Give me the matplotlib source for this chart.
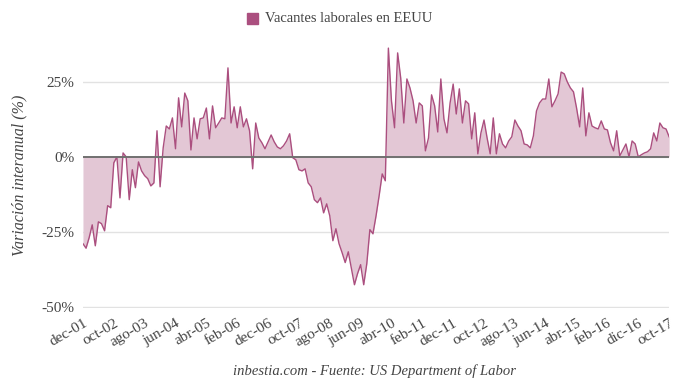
import numpy as np
import matplotlib
matplotlib.use('Agg')
import matplotlib.pyplot as plt
import matplotlib.transforms as mtransforms

# Year-on-year change in US job openings (%), monthly dec-01 .. oct-17
values_2002_2004 = [
    -29, -30.5, -27, -22.7, -29.7, -21.7, -22.3, -24.7, -16.3, -17,
    -2, 0, -13.7, 1.3, 0, -14.3, -4.3, -10.3, -1.7, -4.7,
    -6.3, -7.3, -9.7, -8.7, 8.7, -10, 3, 10.3, 9.3, 13, 2.7,
]
values_2004_2007 = [
    19.7, 10, 21.3, 18.7, 2.3, 13, 6, 12.7, 13, 16.3,
    6, 17, 9.7, 11.3, 13, 12.7, 29.7, 11.3, 16.7, 9.7,
    16.7, 10, 12.7, 8.7, -4, 11.3, 6.3, 4.7, 2.7, 5, 7.3,
]
values_2007_2010 = [
    5, 3.3, 2.7, 3.7, 5.3, 7.7, -0.3, -1, -4.3, -4.7,
    -4, -8.7, -10, -14.3, -15.3, -13.7, -18.7, -15.7, -19.7, -28,
    -24, -29, -32, -35.3, -31.7, -37.3, -42.7, -39, -36, -42.7,
    -35.7, -24.3, -25.7, -19.7, -13, -5.7, -8,
]
values_2010_2014 = [
    36.3, 18.7, 9.7, 34.7, 26.3, 11.3, 26, 23, 18.7, 11.3,
    18, 17, 2, 6.3, 20.7, 17, 8.3, 26, 12.7, 8,
    18, 24.3, 14.3, 22.7, 11.3, 18.7, 17.7, 6, 14.7,
    1, 8, 12.3, 6.3, 1, 13, 1, 7.7, 4.3, 3,
    5.3, 6.7, 12.3, 10.3, 8.7, 4.3, 4, 3, 7, 15.3,
]
values_2014_2017 = [
    18, 19.3, 19.3, 26, 16.7, 18.7, 21, 28.3, 27.7, 25, 23,
    21.7, 16.3, 10, 23, 7, 14.7, 10.3, 9.7, 9.3, 12,
    9.3, 9, 4.7, 2, 8.7, 0.3, 2.3, 4.3, 0, 5.3,
    4.3, 0, 0.7, 1.3, 1.7, 2.7, 8, 5.3, 11.3, 9.7, 9.3, 6.7,
]

tick_labels = ['dec-01', 'oct-02', 'ago-03', 'jun-04', 'abr-05', 'feb-06',
               'dec-06', 'oct-07', 'ago-08', 'jun-09', 'abr-10', 'feb-11',
               'dec-11', 'oct-12', 'ago-13', 'jun-14', 'abr-15', 'feb-16',
               'dic-16', 'oct-17']

series_name = 'Vacantes laborales en EEUU'

vals = np.array(values_2002_2004 + values_2004_2007 + values_2007_2010
                + values_2010_2014 + values_2014_2017)
x = np.arange(len(vals))

line_color = '#ab4f7f'
fill_color = '#e3c7d5'
text_color = '#444444'

plt.rcParams['font.family'] = ['Liberation Serif', 'DejaVu Serif']

fig = plt.figure(figsize=(6.8, 3.91), dpi=100)
ax = fig.add_axes([0.122, 0.212, 0.862, 0.678])

ax.fill_between(x, vals, 0, color=fill_color, linewidth=0)
ax.plot(x, vals, color=line_color, linewidth=1.0)
ax.axhline(0, color='#707070', linewidth=1.4, zorder=3)

ax.set_xlim(0, len(vals) - 1)
ax.set_ylim(-50.5, 38)
ax.set_yticks([-50, -25, 0, 25])
ax.set_yticklabels(['-50%', '-25%', '0%', '25%'], color=text_color, fontsize=11)
ax.grid(axis='y', color='#e2e2e2', linewidth=1)
ax.set_axisbelow(True)

ticks = np.arange(0, len(vals), 10)
ax.set_xticks(ticks)
ax.set_xticklabels(tick_labels[:len(ticks)],
                   rotation=30, ha='right', rotation_mode='anchor',
                   color=text_color, fontsize=11)
offset = mtransforms.ScaledTranslation(11 / 100, 0, fig.dpi_scale_trans)
for lbl in ax.get_xticklabels():
    lbl.set_transform(lbl.get_transform() + offset)

ax.tick_params(length=0, pad=6)
for s in ax.spines.values():
    s.set_visible(False)

ax.set_ylabel('Variación interanual (%)', fontstyle='italic',
              color=text_color, fontsize=11.5, labelpad=10)

# legend
fig.patches.append(plt.Rectangle((0.363, 0.938), 0.016, 0.028,
                                 transform=fig.transFigure,
                                 color=line_color, figure=fig))
fig.text(0.389, 0.952, series_name, color=text_color, fontsize=10.5,
         va='center', ha='left')

fig.text(0.551, 0.04, 'inbestia.com - Fuente: US Department of Labor',
         fontstyle='italic', color=text_color, fontsize=10.5, ha='center')

fig.savefig('out.png', dpi=100)
